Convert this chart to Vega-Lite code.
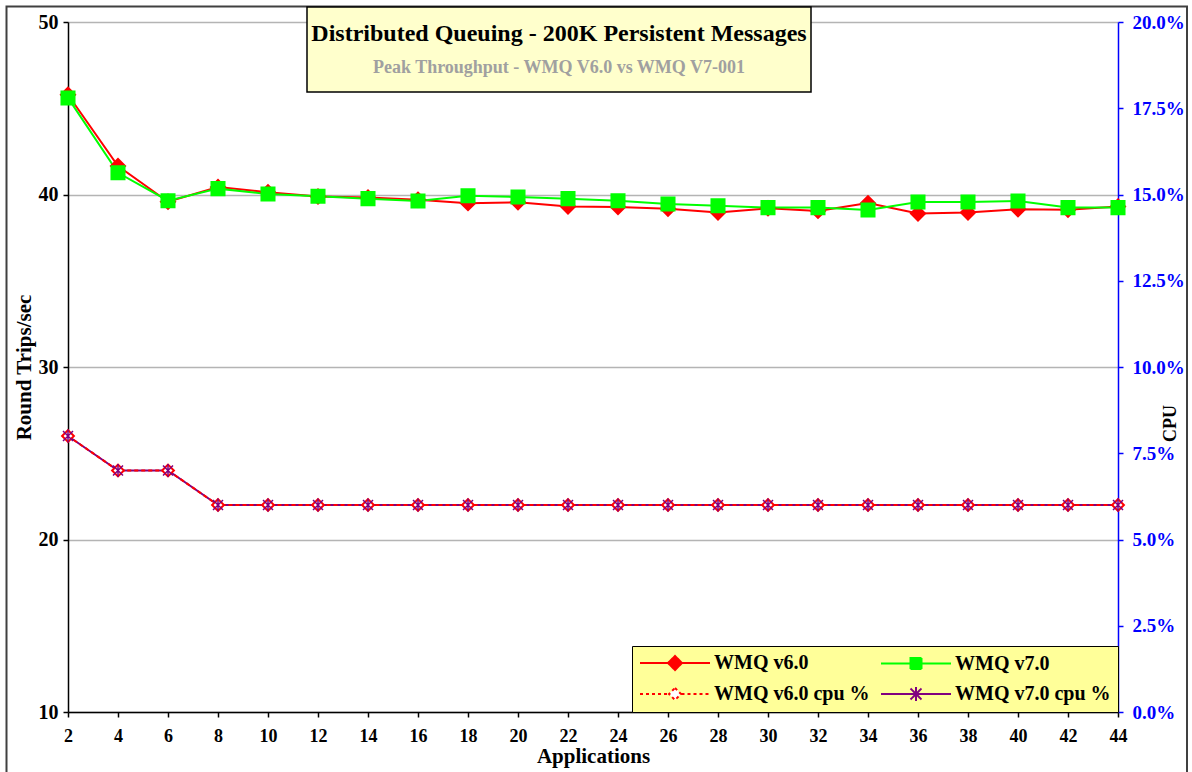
{
  "$schema": "https://vega.github.io/schema/vega-lite/v6.json",
  "width": 1050,
  "height": 690,
  "autosize": {"type": "none"},
  "padding": {"left": 68, "top": 22, "right": 74, "bottom": 60},
  "background": "white",
  "config": {
    "view": {"stroke": null},
    "font": "Liberation Serif",
    "axis": {
      "labelFont": "Liberation Serif",
      "titleFont": "Liberation Serif",
      "labelFontWeight": "bold",
      "titleFontWeight": "bold",
      "labelColor": "#000000",
      "titleColor": "#000000",
      "domainColor": "#000000",
      "tickColor": "#000000",
      "domainWidth": 1.5,
      "tickWidth": 1.5,
      "tickSize": 5,
      "grid": false
    },
    "legend": {
      "orient": "bottom-right",
      "direction": "horizontal",
      "offset": 0,
      "columns": 2,
      "columnPadding": 7,
      "rowPadding": 9,
      "padding": 7,
      "fillColor": "#FFFF99",
      "strokeColor": "#000000",
      "labelFont": "Liberation Serif",
      "labelFontWeight": "bold",
      "labelFontSize": 20,
      "labelColor": "#000000",
      "labelLimit": 400,
      "symbolSize": 100,
      "symbolStrokeWidth": 2,
      "symbolOpacity": 1,
      "symbolOffset": 26,
      "labelOffset": 29
    }
  },
  "data": {
    "values": [
      {"app": 2, "series": "WMQ v6.0", "value": 45.78},
      {"app": 4, "series": "WMQ v6.0", "value": 41.65},
      {"app": 6, "series": "WMQ v6.0", "value": 39.58},
      {"app": 8, "series": "WMQ v6.0", "value": 40.43},
      {"app": 10, "series": "WMQ v6.0", "value": 40.13},
      {"app": 12, "series": "WMQ v6.0", "value": 39.88},
      {"app": 14, "series": "WMQ v6.0", "value": 39.82},
      {"app": 16, "series": "WMQ v6.0", "value": 39.7},
      {"app": 18, "series": "WMQ v6.0", "value": 39.5},
      {"app": 20, "series": "WMQ v6.0", "value": 39.55},
      {"app": 22, "series": "WMQ v6.0", "value": 39.3},
      {"app": 24, "series": "WMQ v6.0", "value": 39.28},
      {"app": 26, "series": "WMQ v6.0", "value": 39.18},
      {"app": 28, "series": "WMQ v6.0", "value": 38.95},
      {"app": 30, "series": "WMQ v6.0", "value": 39.2},
      {"app": 32, "series": "WMQ v6.0", "value": 39.05},
      {"app": 34, "series": "WMQ v6.0", "value": 39.5},
      {"app": 36, "series": "WMQ v6.0", "value": 38.9},
      {"app": 38, "series": "WMQ v6.0", "value": 38.96},
      {"app": 40, "series": "WMQ v6.0", "value": 39.14},
      {"app": 42, "series": "WMQ v6.0", "value": 39.12},
      {"app": 44, "series": "WMQ v6.0", "value": 39.3},
      {"app": 2, "series": "WMQ v7.0", "value": 45.6},
      {"app": 4, "series": "WMQ v7.0", "value": 41.26},
      {"app": 6, "series": "WMQ v7.0", "value": 39.64},
      {"app": 8, "series": "WMQ v7.0", "value": 40.34},
      {"app": 10, "series": "WMQ v7.0", "value": 40.03},
      {"app": 12, "series": "WMQ v7.0", "value": 39.9},
      {"app": 14, "series": "WMQ v7.0", "value": 39.76},
      {"app": 16, "series": "WMQ v7.0", "value": 39.62},
      {"app": 18, "series": "WMQ v7.0", "value": 39.93},
      {"app": 20, "series": "WMQ v7.0", "value": 39.86},
      {"app": 22, "series": "WMQ v7.0", "value": 39.76},
      {"app": 24, "series": "WMQ v7.0", "value": 39.64},
      {"app": 26, "series": "WMQ v7.0", "value": 39.45},
      {"app": 28, "series": "WMQ v7.0", "value": 39.35},
      {"app": 30, "series": "WMQ v7.0", "value": 39.24},
      {"app": 32, "series": "WMQ v7.0", "value": 39.24},
      {"app": 34, "series": "WMQ v7.0", "value": 39.1},
      {"app": 36, "series": "WMQ v7.0", "value": 39.57},
      {"app": 38, "series": "WMQ v7.0", "value": 39.57},
      {"app": 40, "series": "WMQ v7.0", "value": 39.62},
      {"app": 42, "series": "WMQ v7.0", "value": 39.24},
      {"app": 44, "series": "WMQ v7.0", "value": 39.24},
      {"app": 2, "series": "WMQ v6.0 cpu %", "value": 0.08},
      {"app": 4, "series": "WMQ v6.0 cpu %", "value": 0.07},
      {"app": 6, "series": "WMQ v6.0 cpu %", "value": 0.07},
      {"app": 8, "series": "WMQ v6.0 cpu %", "value": 0.06},
      {"app": 10, "series": "WMQ v6.0 cpu %", "value": 0.06},
      {"app": 12, "series": "WMQ v6.0 cpu %", "value": 0.06},
      {"app": 14, "series": "WMQ v6.0 cpu %", "value": 0.06},
      {"app": 16, "series": "WMQ v6.0 cpu %", "value": 0.06},
      {"app": 18, "series": "WMQ v6.0 cpu %", "value": 0.06},
      {"app": 20, "series": "WMQ v6.0 cpu %", "value": 0.06},
      {"app": 22, "series": "WMQ v6.0 cpu %", "value": 0.06},
      {"app": 24, "series": "WMQ v6.0 cpu %", "value": 0.06},
      {"app": 26, "series": "WMQ v6.0 cpu %", "value": 0.06},
      {"app": 28, "series": "WMQ v6.0 cpu %", "value": 0.06},
      {"app": 30, "series": "WMQ v6.0 cpu %", "value": 0.06},
      {"app": 32, "series": "WMQ v6.0 cpu %", "value": 0.06},
      {"app": 34, "series": "WMQ v6.0 cpu %", "value": 0.06},
      {"app": 36, "series": "WMQ v6.0 cpu %", "value": 0.06},
      {"app": 38, "series": "WMQ v6.0 cpu %", "value": 0.06},
      {"app": 40, "series": "WMQ v6.0 cpu %", "value": 0.06},
      {"app": 42, "series": "WMQ v6.0 cpu %", "value": 0.06},
      {"app": 44, "series": "WMQ v6.0 cpu %", "value": 0.06},
      {"app": 2, "series": "WMQ v7.0 cpu %", "value": 0.08},
      {"app": 4, "series": "WMQ v7.0 cpu %", "value": 0.07},
      {"app": 6, "series": "WMQ v7.0 cpu %", "value": 0.07},
      {"app": 8, "series": "WMQ v7.0 cpu %", "value": 0.06},
      {"app": 10, "series": "WMQ v7.0 cpu %", "value": 0.06},
      {"app": 12, "series": "WMQ v7.0 cpu %", "value": 0.06},
      {"app": 14, "series": "WMQ v7.0 cpu %", "value": 0.06},
      {"app": 16, "series": "WMQ v7.0 cpu %", "value": 0.06},
      {"app": 18, "series": "WMQ v7.0 cpu %", "value": 0.06},
      {"app": 20, "series": "WMQ v7.0 cpu %", "value": 0.06},
      {"app": 22, "series": "WMQ v7.0 cpu %", "value": 0.06},
      {"app": 24, "series": "WMQ v7.0 cpu %", "value": 0.06},
      {"app": 26, "series": "WMQ v7.0 cpu %", "value": 0.06},
      {"app": 28, "series": "WMQ v7.0 cpu %", "value": 0.06},
      {"app": 30, "series": "WMQ v7.0 cpu %", "value": 0.06},
      {"app": 32, "series": "WMQ v7.0 cpu %", "value": 0.06},
      {"app": 34, "series": "WMQ v7.0 cpu %", "value": 0.06},
      {"app": 36, "series": "WMQ v7.0 cpu %", "value": 0.06},
      {"app": 38, "series": "WMQ v7.0 cpu %", "value": 0.06},
      {"app": 40, "series": "WMQ v7.0 cpu %", "value": 0.06},
      {"app": 42, "series": "WMQ v7.0 cpu %", "value": 0.06},
      {"app": 44, "series": "WMQ v7.0 cpu %", "value": 0.06}
    ]
  },
  "layer": [
    {
      "layer": [
        {
          "data": {"values": [{}]},
          "mark": {"type": "rect", "fill": null, "fillOpacity": 0, "stroke": "#404040", "strokeWidth": 2},
          "encoding": {
            "x": {"datum": -0.46, "type": "quantitative"},
            "x2": {"datum": 46.76},
            "y": {"datum": 50.9, "type": "quantitative"},
            "y2": {"datum": 6.06}
          }
        },
        {
          "data": {"values": [{}]},
          "mark": {"type": "rect", "fill": "#FFFFCC", "stroke": "#000000", "strokeWidth": 1.5},
          "encoding": {
            "x": {"datum": 11.56, "type": "quantitative"},
            "x2": {"datum": 31.72},
            "y": {"datum": 50.87, "type": "quantitative"},
            "y2": {"datum": 45.94}
          }
        },
        {
          "data": {"values": [{}]},
          "mark": {"type": "text", "text": "Distributed Queuing - 200K Persistent Messages", "font": "Liberation Serif", "fontWeight": "bold", "fontSize": 24, "fill": "#000000", "align": "center", "baseline": "middle"},
          "encoding": {
            "x": {"datum": 21.64, "type": "quantitative"},
            "y": {"datum": 49.3, "type": "quantitative"}
          }
        },
        {
          "data": {"values": [{}]},
          "mark": {"type": "text", "text": "Peak Throughput - WMQ V6.0 vs WMQ V7-001", "font": "Liberation Serif", "fontWeight": "bold", "fontSize": 18, "fill": "#A0A0A0", "align": "center", "baseline": "middle"},
          "encoding": {
            "x": {"datum": 21.64, "type": "quantitative"},
            "y": {"datum": 47.33, "type": "quantitative"}
          }
        },
        {
          "mark": {"type": "line", "strokeWidth": 2, "stroke": "#FF0000"},
          "transform": [{"filter": "datum.series === 'WMQ v6.0'"}],
          "encoding": {
            "x": {
              "field": "app", "type": "quantitative",
              "scale": {"domain": [2, 44], "nice": false, "zero": false},
              "axis": {
                "title": "Applications",
                "values": [2, 4, 6, 8, 10, 12, 14, 16, 18, 20, 22, 24, 26, 28, 30, 32, 34, 36, 38, 40, 42, 44],
                "labelFontSize": 18,
                "labelPadding": 10,
                "labelFlush": false,
                "titleFontSize": 21,
                "titlePadding": 0
              }
            },
            "y": {
              "field": "value", "type": "quantitative",
              "scale": {"domain": [10, 50], "nice": false, "zero": false},
              "axis": {
                "title": "Round Trips/sec",
                "values": [10, 20, 30, 40, 50],
                "grid": true,
                "gridColor": "#B4B4B4",
                "gridWidth": 1.5,
                "labelFontSize": 20,
                "labelPadding": 5,
                "titleFontSize": 21,
                "titlePadding": 4
              }
            }
          }
        },
        {
          "mark": {"type": "line", "strokeWidth": 2, "stroke": "#00FF00"},
          "transform": [{"filter": "datum.series === 'WMQ v7.0'"}],
          "encoding": {
            "x": {"field": "app", "type": "quantitative"},
            "y": {"field": "value", "type": "quantitative"}
          }
        },
        {
          "mark": {"type": "point", "shape": "diamond", "filled": true, "fill": "#FF0000", "stroke": "#FF0000", "size": 200, "opacity": 1},
          "transform": [{"filter": "datum.series === 'WMQ v6.0'"}],
          "encoding": {
            "x": {"field": "app", "type": "quantitative"},
            "y": {"field": "value", "type": "quantitative"}
          }
        },
        {
          "mark": {"type": "point", "shape": "square", "filled": true, "fill": "#00FF00", "stroke": "#00FF00", "size": 170, "opacity": 1},
          "transform": [{"filter": "datum.series === 'WMQ v7.0'"}],
          "encoding": {
            "x": {"field": "app", "type": "quantitative"},
            "y": {"field": "value", "type": "quantitative"}
          }
        },
        {
          "mark": {"type": "point", "opacity": 1, "strokeWidth": 2},
          "transform": [{"filter": "false"}],
          "encoding": {
            "x": {"field": "app", "type": "quantitative"},
            "y": {"field": "value", "type": "quantitative"},
            "shape": {
              "field": "series", "type": "nominal",
              "scale": {
                "domain": ["WMQ v6.0", "WMQ v7.0", "WMQ v6.0 cpu %", "WMQ v7.0 cpu %"],
                "range": [
                  "M-7,0H7M0,-1.4L1.4,0L0,1.4L-1.4,0Z",
                  "M-7,0H7M-1.1,-1.1H1.1V1.1H-1.1Z",
                  "M-7,0H-1.3M1.3,0H7M0,-1.2L1.2,0L0,1.2L-1.2,0Z",
                  "M-7,0H7M-1.1,-1.1L1.1,1.1M-1.1,1.1L1.1,-1.1M0,-1.4V1.4"
                ]
              },
              "legend": {"title": null}
            },
            "fill": {
              "field": "series", "type": "nominal",
              "scale": {
                "domain": ["WMQ v6.0", "WMQ v7.0", "WMQ v6.0 cpu %", "WMQ v7.0 cpu %"],
                "range": ["#FF0000", "#00FF00", "#FFFFFF", "transparent"]
              },
              "legend": {"title": null}
            },
            "stroke": {
              "field": "series", "type": "nominal",
              "scale": {
                "domain": ["WMQ v6.0", "WMQ v7.0", "WMQ v6.0 cpu %", "WMQ v7.0 cpu %"],
                "range": ["#FF0000", "#00FF00", "#FF0000", "#800080"]
              },
              "legend": {"title": null}
            },
            "strokeDash": {
              "field": "series", "type": "nominal",
              "scale": {
                "domain": ["WMQ v6.0", "WMQ v7.0", "WMQ v6.0 cpu %", "WMQ v7.0 cpu %"],
                "range": [[1, 0], [1, 0], [3, 3], [1, 0]]
              },
              "legend": {"title": null}
            }
          }
        }
      ]
    },
    {
      "layer": [
        {
          "mark": {"type": "line", "strokeWidth": 2, "stroke": "#800080"},
          "transform": [{"filter": "datum.series === 'WMQ v7.0 cpu %'"}],
          "encoding": {
            "x": {"field": "app", "type": "quantitative"},
            "y": {
              "field": "value", "type": "quantitative",
              "scale": {"domain": [0, 0.2], "nice": false},
              "axis": {
                "orient": "right",
                "title": "CPU",
                "values": [0, 0.025, 0.05, 0.075, 0.1, 0.125, 0.15, 0.175, 0.2],
                "format": ".1%",
                "domainColor": "#0000FF",
                "tickColor": "#0000FF",
                "labelColor": "#0000FF",
                "labelFontSize": 19,
                "labelPadding": 9,
                "grid": false,
                "titleFontSize": 18,
                "titleAngle": -90,
                "titleX": 52,
                "titleY": 401,
                "titleAlign": "center",
                "titleBaseline": "middle"
              }
            }
          }
        },
        {
          "mark": {"type": "line", "strokeWidth": 2, "stroke": "#FF0000", "strokeDash": [4, 3]},
          "transform": [{"filter": "datum.series === 'WMQ v6.0 cpu %'"}],
          "encoding": {
            "x": {"field": "app", "type": "quantitative"},
            "y": {"field": "value", "type": "quantitative"}
          }
        },
        {
          "mark": {"type": "point", "shape": "diamond", "filled": true, "fill": "#FFFFFF", "stroke": "#FF0000", "strokeWidth": 2, "size": 140, "opacity": 1},
          "transform": [{"filter": "datum.series === 'WMQ v6.0 cpu %'"}],
          "encoding": {
            "x": {"field": "app", "type": "quantitative"},
            "y": {"field": "value", "type": "quantitative"}
          }
        },
        {
          "mark": {"type": "point", "shape": "M-1,-1L1,1M-1,1L1,-1M0,-1.3V1.3", "filled": false, "stroke": "#800080", "strokeWidth": 1.5, "size": 100, "opacity": 1},
          "transform": [{"filter": "datum.series === 'WMQ v7.0 cpu %'"}],
          "encoding": {
            "x": {"field": "app", "type": "quantitative"},
            "y": {"field": "value", "type": "quantitative"}
          }
        }
      ]
    }
  ],
  "resolve": {"scale": {"y": "independent"}}
}
